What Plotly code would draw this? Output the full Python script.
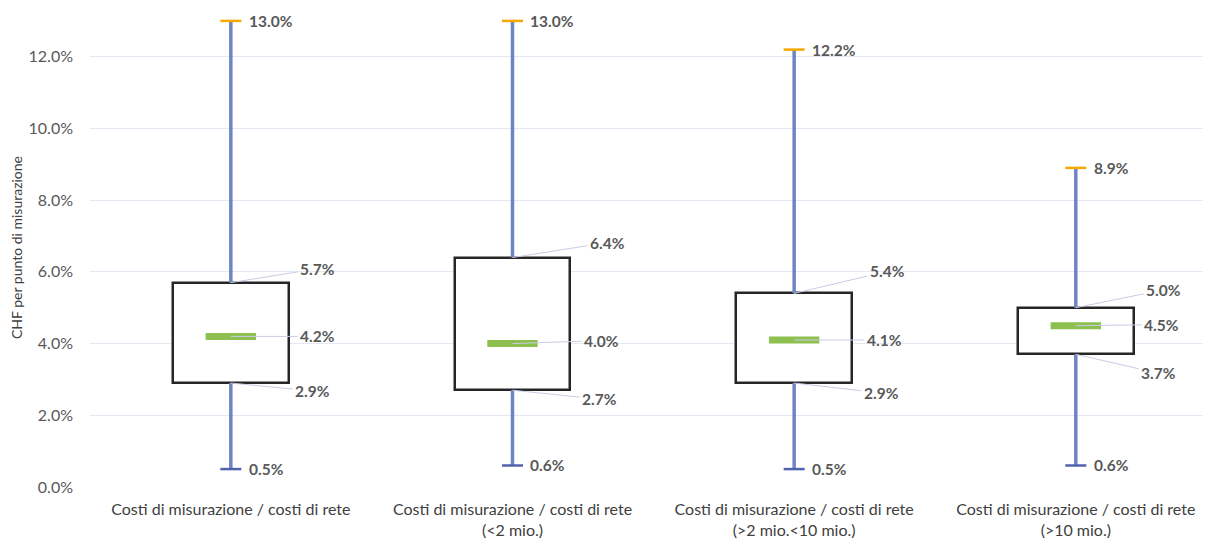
import plotly.graph_objects as go

# ---- data ----
categories = [
    "Costi di misurazione / costi di rete",
    "Costi di misurazione / costi di rete<br>(&lt;2 mio.)",
    "Costi di misurazione / costi di rete<br>(&gt;2 mio.&lt;10 mio.)",
    "Costi di misurazione / costi di rete<br>(&gt;10 mio.)",
]
min_vals = [0.5, 0.6, 0.5, 0.6]
q1_vals = [2.9, 2.7, 2.9, 3.7]
median_vals = [4.2, 4.0, 4.1, 4.5]
q3_vals = [5.7, 6.4, 5.4, 5.0]
max_vals = [13.0, 13.0, 12.2, 8.9]
y_ticks = [0, 2, 4, 6, 8, 10, 12]
y_tick_labels = ["0.0%", "2.0%", "4.0%", "6.0%", "8.0%", "10.0%", "12.0%"]

# ---- styles ----
FONT = "Lato"
LBL_COLOR = "#595959"
WHISKER = "#6F84C4"
MIN_CAP = "#4F63AD"
MAX_CAP = "#F5A800"
GREEN = "#8DC04F"
LEADER = "#C8CCE6"
GRID = "#E4E8F2"

xs = list(range(len(categories)))

fig = go.Figure()

# whiskers (lower and upper segments, outside the box)
wx, wy = [], []
for i in xs:
    wx += [i, i, None, i, i, None]
    wy += [min_vals[i], q1_vals[i], None, q3_vals[i], max_vals[i], None]
fig.add_trace(go.Scatter(x=wx, y=wy, mode="lines",
                         line=dict(color=WHISKER, width=3.5),
                         hoverinfo="skip", showlegend=False))

# boxes
fig.add_trace(go.Bar(x=xs, base=q1_vals,
                     y=[q3_vals[i] - q1_vals[i] for i in xs],
                     width=0.41,
                     marker=dict(color="white", line=dict(color="#262626", width=2.5)),
                     hoverinfo="skip", showlegend=False))

# median bars
fig.add_trace(go.Scatter(x=xs, y=median_vals, mode="markers",
                         marker=dict(symbol="line-ew", size=36,
                                     line=dict(color=GREEN, width=7)),
                         hoverinfo="skip", showlegend=False))

# caps
fig.add_trace(go.Scatter(x=xs, y=max_vals, mode="markers",
                         marker=dict(symbol="line-ew", size=15,
                                     line=dict(color=MAX_CAP, width=2.5)),
                         hoverinfo="skip", showlegend=False))
fig.add_trace(go.Scatter(x=xs, y=min_vals, mode="markers",
                         marker=dict(symbol="line-ew", size=15,
                                     line=dict(color=MIN_CAP, width=2.5)),
                         hoverinfo="skip", showlegend=False))

lbl_font = dict(family=FONT, size=15.5, color=LBL_COLOR, weight="bold")

def pct(v):
    return f"{v:.1f}%"

# label offsets (pixels) for leader-lined labels
q3_off = [(87, -14), (95, -15), (93, -22), (88, -18)]
med_off = [(87, 0), (89, -3), (90, 0), (86, -1)]
q1_off = [(82, 8), (87, 9), (87, 10), (83, 19)]

annotations = []
for i in xs:
    for vals, off in ((q3_vals, q3_off), (median_vals, med_off), (q1_vals, q1_off)):
        annotations.append(dict(
            x=i, y=vals[i], xref="x", yref="y", text=pct(vals[i]),
            showarrow=True, arrowhead=0, arrowwidth=1, arrowcolor=LEADER,
            ax=off[i][0], ay=off[i][1], axref="pixel", ayref="pixel",
            font=lbl_font, borderpad=2, standoff=0,
        ))
    annotations.append(dict(x=i, y=max_vals[i], xref="x", yref="y",
                            text=pct(max_vals[i]), showarrow=False,
                            xanchor="left", xshift=16, font=lbl_font))
    annotations.append(dict(x=i, y=min_vals[i], xref="x", yref="y",
                            text=pct(min_vals[i]), showarrow=False,
                            xanchor="left", xshift=16, font=lbl_font))

# page body has an 8px margin, so the figure is sized to fit inside the window
fig.update_layout(
    width=1203, height=531,
    margin=dict(l=82, r=0, t=0, b=52, autoexpand=False),
    paper_bgcolor="white", plot_bgcolor="white",
    font=dict(family=FONT, size=16, color=LBL_COLOR),
    annotations=annotations,
    bargap=0,
    xaxis=dict(
        range=[-0.5, 3.48], tickmode="array", tickvals=xs, ticktext=categories,
        showgrid=False, zeroline=False, showline=False, ticks="",
        tickfont=dict(family=FONT, size=16, color="#404040"),
        ticklabelstandoff=11, automargin=False,
        fixedrange=True,
    ),
    yaxis=dict(
        range=[0, 13.36], tickmode="array", tickvals=y_ticks, ticktext=y_tick_labels,
        showgrid=True, gridcolor=GRID, gridwidth=1, zeroline=False, showline=False,
        ticks="", ticklabelstandoff=16, automargin=False,
        tickfont=dict(family=FONT, size=16, color=LBL_COLOR),
        title=dict(text="CHF per punto di misurazione", standoff=6,
                   font=dict(family=FONT, size=14, color="#404040")),
        fixedrange=True,
    ),
)

fig.write_html("out.html")
